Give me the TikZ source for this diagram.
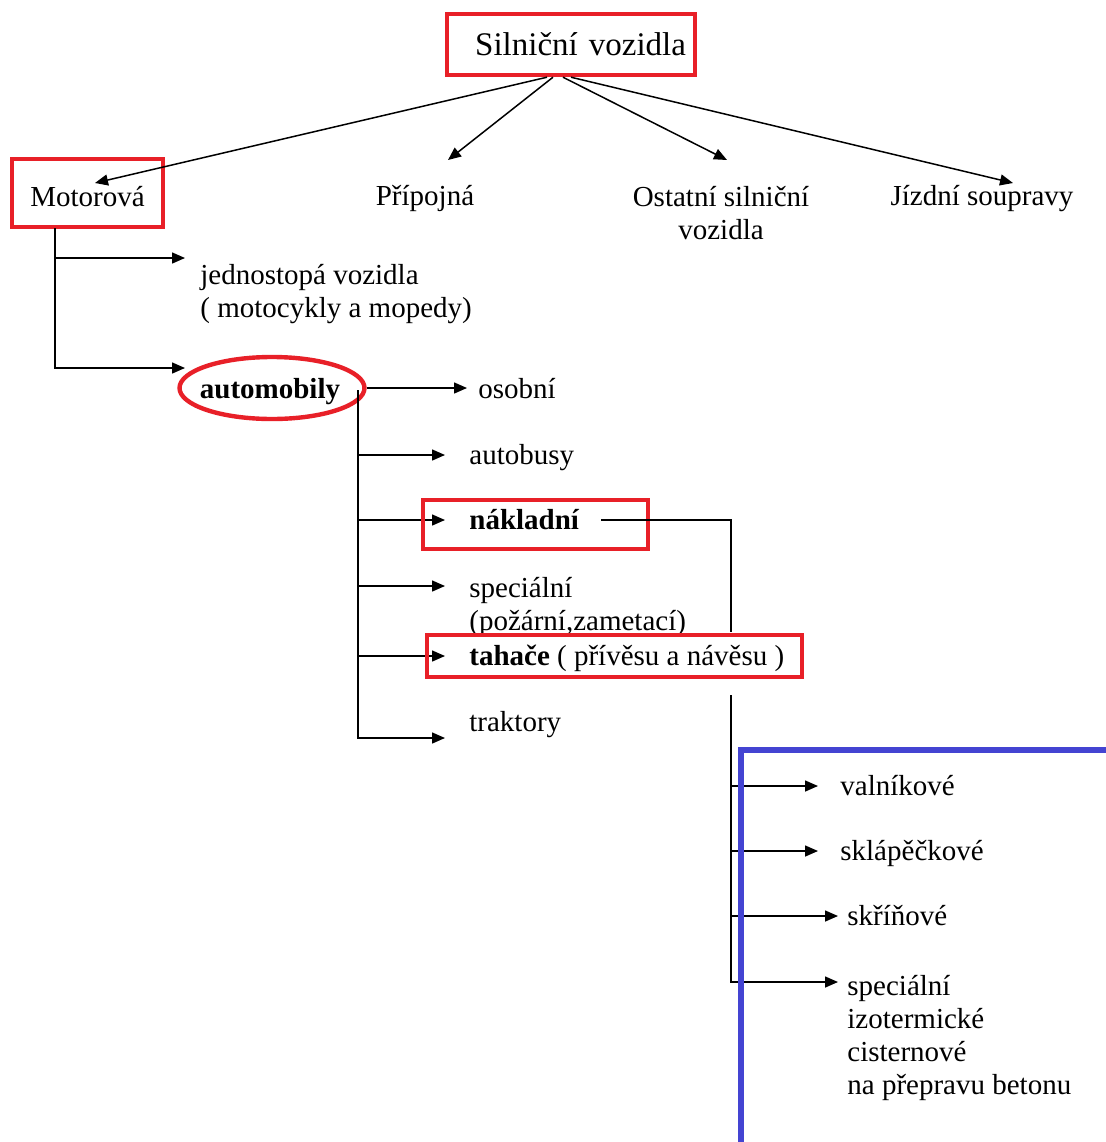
\documentclass[tikz,border=0pt]{standalone}
\usepackage{fontspec}
\setmainfont{Liberation Serif}
\usetikzlibrary{arrows.meta,shapes.geometric}
\definecolor{boxred}{RGB}{232,32,40}
\definecolor{boxblue}{RGB}{68,68,210}
\begin{document}
\begin{tikzpicture}[x=0.5pt,y=-0.5pt,
  every node/.style={font=\fontsize{14.5}{16.5}\selectfont, inner sep=0pt},
  txt/.style={anchor=base west, text height=11pt, text depth=2pt},
  mtxt/.style={anchor=north west, align=left},
  redbox/.style={draw=boxred, line width=2.2pt},
  arr/.style={draw=black, line width=0.75pt, -{Triangle[length=6.5pt,width=5.5pt]}},
  ln/.style={draw=black, line width=0.75pt},
  blueln/.style={draw=boxblue, line width=2.8pt}]
\useasboundingbox[fill=white] (0,0) rectangle (1105,1142);

% level 0 and 1
\node[redbox, minimum height=30.5pt, text width=115pt, inner xsep=4.5pt, align=right, font=\fontsize{16.5}{18}\selectfont] (top) at (571,44.5) {Silniční vozidla};
\node[redbox, minimum width=75.5pt, minimum height=34pt, text height=13pt, text depth=0pt] (mot) at (87.5,193) {Motorová};
\node[anchor=base] (prip) at (425,205) {Přípojná};
\node[anchor=north, align=center] (ost) at (721,186) {Ostatní silniční\\vozidla};
\node[anchor=base] (jizd) at (982,205) {Jízdní soupravy};

\coordinate (tMot) at (95,183);
\coordinate (tPrip) at (448,160);
\coordinate (tOst) at (727,160);
\coordinate (tJizd) at (1013,183);
\draw[arr] ([xshift=-12pt]top.south) -- (tMot);
\draw[arr] ([xshift=-9pt]top.south) -- (tPrip);
\draw[arr] ([xshift=-4pt]top.south) -- (tOst);
\draw[arr] ([xshift=0pt]top.south) -- (tJizd);

% Motorova branch
\node[mtxt] (jedn) at (200,264) {jednostopá vozidla\\( motocykly a mopedy)};
\node[redbox, ellipse, minimum width=92.5pt, minimum height=31pt] (autoel) at (272,388) {};
\node[anchor=base, font=\fontsize{14.5}{16.5}\selectfont\bfseries] (auto) at (270,398) {automobily};
\coordinate (tJedn) at (185,258);
\coordinate (tAuto) at (185,368);
\coordinate (mTrunk) at (55,228);
\draw[arr] (mTrunk) |- (tJedn);
\draw[arr] (mTrunk) |- (tAuto);

% automobily branch
\node[txt] (osob) at (478,398) {osobní};
\draw[arr, shorten >=5.5pt] (autoel.east) -- (autoel.east -| osob.west);

\node[txt] (autob) at (469,464) {autobusy};
\node[txt, font=\fontsize{14.5}{16.5}\selectfont\bfseries] (nak) at (469,529) {nákladní};
\node[mtxt] (spec) at (469,577) {speciální\\(požární,zametací)};
\node[txt] (tah) at (469,665) {\textbf{tahače} ( přívěsu a návěsu )};
\node[txt] (trak) at (469,731) {traktory};

\coordinate (aTrunk) at (358,390);
\coordinate (tSpec) at (445,586);
\coordinate (tTrak) at (445,738);
\draw[arr, shorten >=12pt] (aTrunk) |- (autob.west);
\draw[arr, shorten >=12pt] (aTrunk) |- (nak.west);
\draw[arr] (aTrunk) |- (tSpec);
\draw[arr, shorten >=12pt] (aTrunk) |- (tah.west);
\draw[arr] (aTrunk) |- (tTrak);

% red highlight boxes
\node[redbox, minimum width=112.5pt, minimum height=24.5pt] (nakbox) at (535.5,524.5) {};
\node[redbox, minimum width=187.5pt, minimum height=21pt] (tahbox) at (614.5,656) {};

% nakladni branch
\coordinate (nk1) at (731,632);
\coordinate (nk2) at (731,695);
\draw[ln] ([xshift=11pt]nak.east) -| (nk1);

\node[txt] (valn) at (840,795) {valníkové};
\node[txt] (sklap) at (840,860) {sklápěčkové};
\node[txt] (skrin) at (847,925) {skříňové};
\node[mtxt] (spec2) at (847,975) {speciální\\izotermické\\cisternové\\na přepravu betonu};
\coordinate (tSpec2) at (838,982);
\draw[arr, shorten >=11pt] (nk2) |- (valn.west);
\draw[arr, shorten >=11pt] (nk2) |- (sklap.west);
\draw[arr, shorten >=4.5pt] (nk2) |- (skrin.west);
\draw[arr] (nk2) |- (tSpec2);

% blue frame
\coordinate (b1) at (741,1160);
\coordinate (b2) at (741,750);
\coordinate (b3) at (1120,750);
\draw[blueln] (b1) -- (b2) -- (b3);
\end{tikzpicture}
\end{document}
